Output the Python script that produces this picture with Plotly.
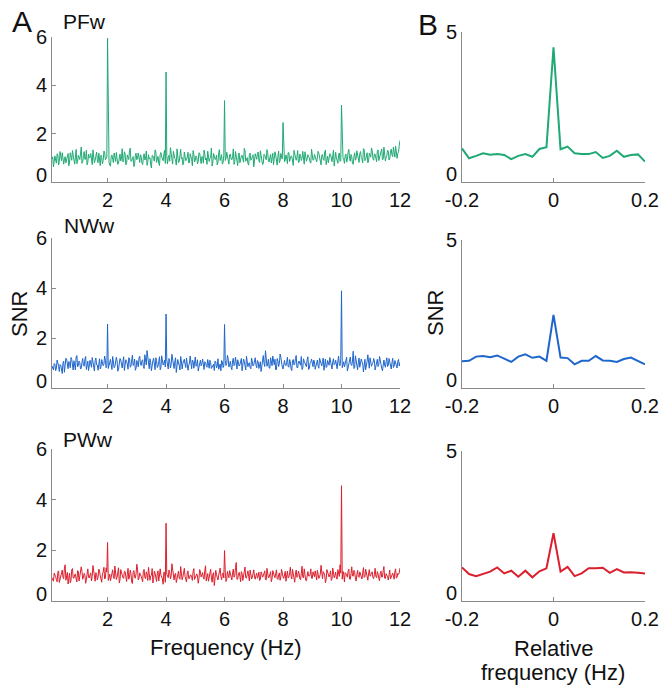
import numpy as np
import plotly.graph_objects as go

# ---- Panel A: SNR spectra, 0.1-12 Hz ----
# values on the 0.05 Hz grid (0.10, 0.15, ..., 12.00)
pfw_on = [
    0.95, 0.62, 1.08, 0.78, 1.12, 0.85, 0.99, 1.21, 0.74, 1.05, 0.91, 1.18, 0.82, 0.97, 1.30, 0.88, 1.02, 0.76, 1.10, 0.93,
    1.45, 0.84, 1.26, 0.95, 0.71, 1.15, 1.02, 0.86, 1.33, 0.79, 1.07, 0.92, 1.19, 0.68, 1.01, 0.89, 1.24, 0.97, 1.05, 0.83,
    0.66, 1.12, 0.80, 0.94, 1.22, 0.73, 1.09, 0.87, 1.38, 0.90, 1.16, 0.77, 1.03, 1.29, 0.85, 0.98, 0.64, 1.11, 0.92, 1.20,
    0.81, 1.06, 0.72, 1.17, 0.95, 0.69, 1.13, 1.00, 0.58, 1.08, 0.86, 1.25, 0.93, 0.78, 1.14, 1.04, 0.88, 1.31, 0.96, 0.75,
    1.10, 1.42, 0.89, 1.27, 0.97, 0.70, 1.18, 0.84, 1.35, 1.01, 0.79, 1.09, 0.94, 1.23, 0.80, 1.06, 0.67, 1.15, 0.90, 1.02,
    0.86, 1.19, 0.76, 1.04, 1.32, 0.91, 0.73, 1.12, 0.98, 1.40, 0.83, 1.07, 0.95, 0.71, 1.21, 0.89, 1.13, 0.80, 1.26, 0.97,
    1.03, 0.74, 1.16, 0.92, 1.37, 0.85, 1.08, 0.68, 1.20, 0.96, 1.11, 0.82, 1.29, 0.99, 0.77, 1.14, 0.90, 1.05, 0.63, 1.17,
    0.94, 1.24, 0.81, 1.07, 0.72, 1.15, 0.98, 1.34, 0.87, 1.01, 0.79, 1.19, 0.93, 1.10, 0.70, 1.28, 0.88, 1.04, 1.36, 0.84,
    1.12, 0.76, 1.22, 0.95, 1.06, 0.69, 1.18, 0.90, 1.30, 0.82, 1.09, 0.97, 0.74, 1.25, 0.86, 1.13, 1.00, 0.78, 1.20, 0.92,
    1.05, 0.83, 1.27, 0.96, 0.71, 1.14, 0.89, 1.32, 1.02, 0.80, 1.17, 0.94, 1.08, 0.66, 1.23, 0.91, 1.11, 0.85, 1.29, 0.99,
    0.77, 1.16, 0.93, 1.35, 0.86, 1.04, 0.73, 1.21, 0.97, 1.12, 0.81, 1.26, 0.95, 1.38, 0.88, 1.07, 0.79, 1.19, 1.03, 1.30,
    0.90, 1.15, 0.84, 1.33, 1.01, 1.22, 0.92, 1.44, 0.87, 1.10, 1.28, 0.96, 1.36, 1.05, 1.18, 1.48, 0.98, 1.25, 1.72,
]
# values on the bins in between (0.125, 0.175, ..., 11.975)
pfw_mid = [
    1.04, 0.83, 0.91, 1.17, 0.70, 1.26, 0.88, 1.02, 0.95, 0.79, 1.13, 0.67, 1.21, 0.90, 1.08, 0.74, 1.35, 0.86, 0.98, 1.15,
    0.77, 1.09, 0.93, 1.31, 0.82, 0.99, 1.18, 0.72, 1.06, 0.89, 1.24, 0.80, 0.96, 1.11, 0.75, 1.28, 0.92, 1.03, 1.14, 0.69,
    1.07, 0.94, 1.20, 0.85, 1.01, 0.78, 1.16, 0.97, 0.83, 1.25, 0.71, 1.12, 0.93, 1.40, 0.87, 1.05, 0.76, 1.19, 0.99, 0.88,
    1.13, 0.79, 1.02, 0.91, 1.28, 0.84, 0.95, 0.73, 1.10, 0.97, 1.33, 0.81, 1.06, 0.68, 1.22, 0.90, 1.15, 0.77, 1.09, 1.01,
    0.86, 1.19, 0.74, 1.05, 0.92, 1.37, 0.80, 1.12, 0.96, 0.71, 1.24, 0.88, 1.03, 0.79, 1.17, 0.94, 1.30, 0.83, 1.08, 0.75,
    1.21, 0.90, 1.06, 0.78, 1.15, 0.99, 1.27, 0.85, 1.02, 0.66, 1.18, 0.93, 1.11, 0.81, 1.34, 0.97, 0.74, 1.09, 0.89, 1.23,
    0.84, 1.12, 0.95, 1.04, 0.73, 1.26, 0.91, 1.16, 0.79, 1.07, 0.98, 1.39, 0.86, 1.01, 0.70, 1.20, 0.94, 1.13, 0.82, 1.05,
    1.17, 0.88, 1.29, 0.96, 0.77, 1.10, 0.92, 1.22, 0.83, 1.14, 0.99, 0.72, 1.25, 0.87, 1.06, 0.80, 1.18, 0.95, 1.03, 0.91,
    0.98, 1.21, 0.85, 1.08, 0.76, 1.31, 0.93, 1.02, 0.81, 1.16, 0.89, 1.27, 0.74, 1.11, 0.96, 1.05, 0.83, 1.36, 0.90, 1.14,
    0.87, 1.03, 1.19, 0.79, 1.10, 0.94, 1.24, 0.72, 1.07, 0.97, 1.15, 0.84, 1.32, 0.91, 1.00, 0.77, 1.20, 0.88, 1.12, 0.95,
    1.09, 0.82, 1.23, 0.98, 1.14, 0.76, 1.05, 0.90, 1.29, 0.85, 1.17, 1.01, 0.79, 1.34, 0.93, 1.21, 0.87, 1.10, 1.41, 0.96,
    1.16, 0.99, 1.27, 0.89, 1.08, 1.37, 0.94, 1.19, 1.02, 1.31, 0.91, 1.24, 1.12, 1.45, 1.03, 1.29, 1.18, 1.52,
]
nww_on = [
    0.88, 0.72, 0.95, 0.80, 1.03, 0.66, 0.91, 0.58, 1.07, 0.84, 1.16, 0.77, 0.99, 1.22, 0.85, 1.09, 0.73, 1.30, 0.90, 1.02,
    0.79, 1.18, 0.87, 1.26, 0.94, 0.70, 1.11, 0.83, 1.05, 0.68, 1.20, 0.92, 1.01, 0.76, 1.14, 0.89, 1.28, 0.81, 1.04, 0.93,
    1.15, 0.74, 1.08, 0.86, 1.23, 0.67, 0.97, 1.12, 0.80, 1.25, 0.91, 1.06, 0.75, 1.19, 0.88, 1.32, 0.96, 0.71, 1.10, 0.84,
    1.27, 0.90, 1.13, 0.78, 1.02, 1.50, 0.85, 1.17, 0.69, 1.09, 0.94, 1.21, 0.82, 1.05, 0.73, 1.29, 0.92, 1.11, 0.64, 0.99,
    1.18, 0.80, 1.35, 0.87, 1.04, 0.62, 1.14, 0.91, 1.26, 0.76, 1.08, 0.95, 1.20, 0.71, 1.00, 0.86, 1.12, 0.79, 1.24, 0.93,
    0.68, 1.06, 0.89, 1.16, 0.74, 1.02, 0.83, 0.97, 1.11, 0.78, 0.92, 0.70, 1.05, 0.88, 0.75, 0.96, 1.10, 0.82, 1.22, 0.90,
    1.31, 0.84, 1.07, 0.73, 1.19, 0.95, 0.80, 1.13, 0.88, 1.03, 0.69, 1.16, 0.92, 1.27, 0.85, 1.01, 0.77, 1.09, 0.94, 1.21,
    0.81, 1.04, 0.90, 0.66, 1.12, 0.98, 1.49, 0.87, 1.15, 0.79, 1.06, 1.28, 0.93, 0.72, 1.18, 0.86, 1.36, 0.97, 0.76, 1.10,
    0.89, 1.23, 0.83, 1.05, 0.70, 1.14, 0.95, 1.30, 0.80, 1.08, 0.91, 0.74, 1.17, 0.99, 0.85, 1.25, 0.78, 1.03, 0.92, 1.12,
    0.75, 1.01, 0.87, 1.19, 0.94, 1.07, 0.71, 1.16, 0.86, 0.98, 1.22, 0.82, 1.04, 0.93, 1.11, 0.77, 1.28, 0.89, 1.09, 0.96,
    0.84, 1.13, 0.68, 1.02, 1.24, 0.90, 1.47, 0.81, 1.10, 0.73, 1.20, 0.95, 1.05, 0.64, 1.15, 0.87, 1.33, 0.79, 1.08, 0.97,
    1.18, 0.72, 1.04, 0.86, 1.26, 0.93, 0.69, 1.12, 0.83, 1.21, 0.91, 1.06, 0.76, 1.19, 0.88, 1.01, 0.80, 1.14, 1.02,
]
nww_mid = [
    0.79, 0.98, 0.69, 1.12, 0.87, 0.94, 0.77, 1.01, 0.63, 1.19, 0.90, 1.06, 0.81, 1.14, 0.72, 0.96, 1.24, 0.85, 1.08, 0.76,
    1.03, 0.91, 1.15, 0.74, 1.07, 0.86, 0.97, 1.22, 0.80, 1.10, 0.93, 0.71, 1.17, 0.84, 1.02, 0.95, 1.11, 0.89, 0.78, 1.05,
    0.92, 1.26, 0.81, 0.99, 1.09, 0.75, 1.18, 0.88, 1.04, 0.70, 1.13, 0.96, 1.21, 0.83, 1.06, 0.90, 1.16, 0.79, 1.01, 1.20,
    0.95, 1.08, 0.86, 1.33, 0.92, 1.14, 0.77, 1.02, 0.97, 1.19, 0.73, 1.10, 0.88, 1.25, 0.81, 1.05, 0.99, 0.84, 1.12, 0.76,
    1.06, 0.93, 1.17, 0.78, 1.21, 0.85, 1.00, 0.72, 1.09, 0.98, 1.15, 0.82, 1.03, 0.91, 1.28, 0.77, 1.07, 0.94, 0.87, 1.13,
    0.83, 1.11, 0.97, 0.74, 1.05, 0.90, 1.14, 0.79, 1.02, 0.86, 0.95, 1.08, 0.80, 1.17, 0.93, 0.69, 1.04, 0.88, 1.10, 0.99,
    1.16, 0.95, 0.82, 1.09, 0.89, 1.24, 0.76, 1.00, 0.93, 1.18, 0.85, 1.07, 0.72, 1.12, 0.97, 0.81, 1.20, 0.88, 1.03, 0.91,
    1.10, 0.78, 1.05, 0.93, 1.30, 0.86, 1.12, 0.96, 0.80, 1.21, 0.89, 1.04, 1.15, 0.75, 1.08, 0.99, 1.23, 0.84, 1.01, 0.94,
    1.02, 0.87, 1.14, 0.76, 1.09, 0.92, 1.18, 0.83, 1.05, 0.97, 1.26, 0.80, 1.07, 0.90, 1.13, 0.74, 1.00, 1.16, 0.85, 1.04,
    0.93, 1.12, 0.79, 1.06, 0.88, 1.20, 0.95, 0.82, 1.10, 0.91, 1.03, 0.76, 1.17, 0.97, 0.86, 1.08, 0.92, 1.19, 0.81, 1.05,
    0.99, 1.23, 0.85, 1.14, 0.94, 1.08, 0.78, 1.29, 0.90, 1.02, 0.83, 1.16, 0.96, 1.11, 0.73, 1.06, 0.92, 1.21, 0.87, 1.00,
    1.09, 0.84, 1.15, 0.95, 1.03, 0.79, 1.12, 0.91, 1.06, 0.86, 1.18, 0.97, 1.02, 0.82, 1.10, 0.93, 1.07, 0.88,
]
pww_on = [
    0.92, 0.78, 1.05, 0.84, 1.14, 0.73, 1.01, 1.22, 0.88, 1.43, 0.95, 0.67, 1.10, 0.81, 1.28, 0.90, 1.06, 0.75, 1.17, 0.97,
    1.35, 0.86, 1.09, 0.70, 1.21, 0.94, 1.03, 0.79, 1.40, 0.91, 1.12, 0.83, 1.26, 0.99, 0.74, 1.15, 0.87, 1.31, 0.96, 1.04,
    0.80, 1.19, 0.93, 1.38, 0.85, 1.07, 0.72, 1.24, 1.00, 0.89, 1.16, 0.77, 1.29, 0.95, 1.08, 0.69, 1.20, 0.90, 1.45, 0.83,
    1.11, 0.98, 0.76, 1.25, 0.88, 1.06, 1.33, 0.82, 1.02, 0.71, 1.18, 0.94, 1.09, 0.79, 1.27, 0.92, 0.66, 1.13, 0.85, 1.01,
    1.22, 0.87, 1.47, 0.96, 1.05, 0.73, 1.16, 0.90, 1.36, 0.84, 1.10, 0.97, 0.75, 1.19, 0.89, 1.03, 0.81, 1.28, 0.93, 1.07,
    0.70, 1.24, 0.95, 1.12, 0.86, 1.39, 0.99, 0.78, 1.15, 0.91, 1.06, 0.61, 1.21, 0.88, 1.02, 1.30, 0.84, 1.11, 0.96, 0.77,
    1.17, 0.92, 1.04, 0.83, 1.26, 1.00, 1.52, 0.87, 1.13, 0.76, 1.08, 0.95, 1.34, 0.90, 1.19, 0.79, 1.05, 0.93, 1.23, 0.86,
    1.10, 0.97, 0.81, 1.15, 0.94, 1.07, 0.85, 1.29, 0.91, 1.02, 0.76, 1.20, 0.99, 1.12, 0.88, 1.04, 0.82, 1.25, 0.95, 1.09,
    0.78, 1.18, 0.93, 1.33, 0.87, 1.06, 0.74, 1.22, 0.96, 1.10, 0.84, 1.37, 0.91, 1.03, 0.80, 1.16, 0.98, 1.27, 0.89, 1.05,
    1.19, 0.83, 1.08, 0.95, 1.41, 0.88, 1.12, 0.72, 1.24, 0.97, 1.05, 0.81, 1.30, 0.92, 1.14, 0.86, 1.01, 1.43, 0.90, 1.17,
    0.75, 1.09, 0.94, 1.26, 0.85, 1.35, 0.98, 1.13, 0.79, 1.21, 0.93, 1.06, 0.87, 1.32, 0.96, 1.11, 0.82, 1.24, 1.00, 1.15,
    0.88, 1.29, 0.92, 1.07, 0.80, 1.18, 0.95, 1.36, 0.89, 1.04, 0.83, 1.22, 0.97, 1.10, 0.86, 1.27, 0.93, 1.05, 1.30,
]
pww_mid = [
    0.85, 1.10, 0.96, 0.76, 1.19, 0.89, 1.07, 0.93, 1.30, 0.82, 1.13, 0.98, 0.72, 1.24, 0.91, 1.04, 0.87, 1.20, 0.79, 1.09,
    1.16, 0.95, 1.02, 0.84, 1.27, 0.91, 1.11, 0.97, 1.21, 0.78, 1.05, 0.93, 1.18, 0.86, 1.08, 1.33, 0.90, 1.14, 0.81, 1.06,
    0.97, 1.23, 0.88, 1.12, 0.94, 1.31, 0.83, 1.09, 0.92, 1.17, 0.98, 1.04, 0.86, 1.22, 0.75, 1.13, 0.95, 1.08, 1.26, 0.90,
    1.03, 0.87, 1.20, 0.93, 1.15, 0.81, 1.07, 0.99, 1.28, 0.85, 1.10, 0.77, 1.19, 0.96, 1.02, 0.88, 1.14, 0.74, 1.06, 0.92,
    1.13, 0.98, 1.24, 0.83, 1.09, 0.91, 1.18, 0.86, 1.05, 0.95, 1.29, 0.80, 1.11, 0.89, 1.02, 0.94, 1.16, 0.85, 1.07, 0.99,
    0.88, 1.15, 1.03, 0.92, 1.21, 0.79, 1.08, 0.96, 1.25, 0.74, 1.12, 0.90, 1.04, 0.83, 1.17, 0.97, 1.06, 0.91, 1.14, 0.86,
    1.02, 1.20, 0.89, 1.11, 0.94, 1.32, 0.85, 1.07, 0.97, 1.16, 0.81, 1.10, 0.92, 1.05, 0.98, 1.22, 0.87, 1.13, 0.95, 1.01,
    0.90, 1.14, 0.86, 1.07, 0.99, 1.19, 0.83, 1.09, 0.94, 1.16, 0.88, 1.03, 0.92, 1.23, 0.85, 1.11, 0.96, 1.02, 0.89, 1.17,
    1.04, 0.91, 1.12, 0.97, 1.25, 0.84, 1.06, 0.93, 1.18, 0.87, 1.09, 0.95, 1.27, 0.82, 1.13, 0.99, 1.05, 0.90, 1.15, 0.96,
    0.98, 1.21, 0.89, 1.07, 0.93, 1.16, 1.03, 0.85, 1.12, 0.95, 1.19, 0.88, 1.05, 1.01, 0.91, 1.24, 0.97, 1.10, 0.86, 1.06,
    1.12, 0.94, 1.18, 0.87, 1.08, 0.99, 1.21, 0.91, 1.04, 0.96, 1.15, 0.89, 1.10, 0.93, 1.26, 0.84, 1.07, 0.98, 1.13, 0.92,
    1.05, 0.97, 1.16, 0.88, 1.11, 0.94, 1.20, 0.90, 1.08, 0.96, 1.14, 0.87, 1.06, 0.99, 1.17, 0.91, 1.09, 1.12,
]

# SNR at the stimulation frequency and its harmonics
pfw_peak_hz = [2, 4, 6, 8, 10]
pfw_peak_snr = [5.95, 4.55, 3.37, 2.46, 3.18]
nww_peak_hz = [2, 4, 6, 10]
nww_peak_snr = [2.56, 2.96, 2.54, 3.89]
pww_peak_hz = [2, 4, 6, 10]
pww_peak_snr = [2.31, 3.07, 1.99, 4.55]

# ---- Panel B: SNR around the tagged frequency (relative, Hz) ----
pfw_rel = [1.12, 0.79, 0.87, 0.96, 0.91, 0.93, 0.90, 0.76, 0.87, 0.93, 0.84, 1.10, 1.16, 4.49,
           1.09, 1.18, 0.96, 0.93, 0.93, 1.00, 0.80, 0.87, 1.04, 0.84, 0.90, 0.92, 0.68]
nww_rel = [0.90, 0.92, 1.06, 1.08, 1.04, 1.10, 0.99, 0.88, 1.06, 1.14, 1.02, 1.06, 0.92, 2.47,
           1.03, 1.01, 0.80, 0.92, 0.92, 1.08, 0.93, 0.92, 0.88, 0.98, 1.03, 0.92, 0.80]
pww_rel = [1.12, 0.90, 0.83, 0.90, 0.98, 1.12, 0.92, 1.01, 0.81, 1.01, 0.79, 0.99, 1.09, 2.26,
           0.98, 1.14, 0.83, 0.92, 1.09, 1.09, 1.11, 0.94, 1.06, 0.95, 0.96, 0.94, 0.92]

names = ["PFw", "NWw", "PWw"]
colors = ["#1fa974", "#1f66cc", "#dc1f2d"]

W, H = 661, 690
FONT = "Liberation Sans, Arial, Helvetica, sans-serif"
AXC = "#8a8a8a"
TXT = "#111111"

# panel extents in pixels: (left, right), (top, bottom)
a_x = (52, 400)
b_x = (462, 645)
a_y = [(37, 182), (238, 388), (449, 601)]
b_y = [(32, 182), (240, 388), (451, 601)]


def xdom(px):
    return [px[0] / W, px[1] / W]


def ydom(py):
    return [1 - py[1] / H, 1 - py[0] / H]


def spectrum(on_bins, mid_bins, peak_hz, peak_snr):
    f_on = np.linspace(0.1, 12.0, len(on_bins))
    f_mid = ((f_on[:-1] + f_on[1:]) / 2)[:len(mid_bins)]
    f = np.concatenate([f_on, f_mid])
    s = np.concatenate([np.asarray(on_bins, float), np.asarray(mid_bins, float)[:len(f_mid)]])
    order = np.argsort(f)
    f, s = f[order], s[order]
    for hz, v in zip(peak_hz, peak_snr):
        s[int(np.argmin(np.abs(f - hz)))] = v
    return f, s


series_a = [
    spectrum(pfw_on, pfw_mid, pfw_peak_hz, pfw_peak_snr),
    spectrum(nww_on, nww_mid, nww_peak_hz, nww_peak_snr),
    spectrum(pww_on, pww_mid, pww_peak_hz, pww_peak_snr),
]
series_b = [pfw_rel, nww_rel, pww_rel]

fig = go.Figure()
layout = {}
annotations = []

axis_common = dict(
    showline=True, linecolor=AXC, linewidth=1, ticks="inside", ticklen=4,
    tickcolor=AXC, showgrid=False, zeroline=False, mirror=False, automargin=False,
    tickfont=dict(family=FONT, size=20, color=TXT),
)

for i in range(3):
    # left column: full spectrum
    n = 2 * i + 1
    xa, ya = f"x{n}", f"y{n}"
    f, s = series_a[i]
    fig.add_trace(go.Scatter(x=f, y=s, mode="lines", xaxis=xa, yaxis=ya,
                             line=dict(color=colors[i], width=1), showlegend=False,
                             hoverinfo="skip"))
    layout[f"xaxis{n}"] = dict(axis_common, domain=xdom(a_x), range=[0.1, 12],
                               tickvals=[2, 4, 6, 8, 10, 12], anchor=ya)
    layout[f"yaxis{n}"] = dict(axis_common, domain=ydom(a_y[i]), range=[0, 6],
                               tickvals=[2, 4, 6], anchor=xa)
    annotations.append(dict(x=a_x[0] / W, y=0, xref="paper", yref=ya, text="0",
                            showarrow=False, xanchor="right", yanchor="middle",
                            xshift=-3, yshift=7,
                            font=dict(family=FONT, size=20, color=TXT)))

    # right column: neighbourhood of the tagged frequency
    m = 2 * i + 2
    xb, yb = f"x{m}", f"y{m}"
    rel = np.linspace(-0.2, 0.2, len(series_b[i]))
    fig.add_trace(go.Scatter(x=rel, y=series_b[i], mode="lines", xaxis=xb, yaxis=yb,
                             line=dict(color=colors[i], width=2), showlegend=False,
                             hoverinfo="skip"))
    layout[f"xaxis{m}"] = dict(axis_common, domain=xdom(b_x), range=[-0.2, 0.2],
                               tickvals=[-0.2, 0, 0.2], ticktext=["-0.2", "0", "0.2"],
                               anchor=yb)
    layout[f"yaxis{m}"] = dict(axis_common, domain=ydom(b_y[i]), range=[0, 5],
                               tickvals=[5], anchor=xb)
    annotations.append(dict(x=b_x[0] / W, y=0, xref="paper", yref=yb, text="0",
                            showarrow=False, xanchor="right", yanchor="middle",
                            xshift=-3, yshift=8,
                            font=dict(family=FONT, size=20, color=TXT)))


def label(text, px, py, size, angle=0):
    annotations.append(dict(x=px / W, y=1 - py / H, xref="paper", yref="paper",
                            text=text, showarrow=False, textangle=angle,
                            xanchor="center", yanchor="middle",
                            font=dict(family=FONT, size=size, color=TXT)))


label("A", 22, 22, 30)
label("B", 428, 24, 30)
label("PFw", 84, 22, 21)
label("NWw", 89, 225, 21)
label("PWw", 88, 440, 21)
label("SNR", 19, 314, 22, -90)
label("SNR", 435, 313, 22, -90)
label("Frequency (Hz)", 226, 647, 22)
label("Relative", 553, 648, 22)
label("frequency (Hz)", 553, 672, 22)

fig.update_layout(
    width=W, height=H, margin=dict(l=0, r=0, t=0, b=0),
    paper_bgcolor="white", plot_bgcolor="white",
    annotations=annotations, **layout,
)

fig.write_html("out.html")
